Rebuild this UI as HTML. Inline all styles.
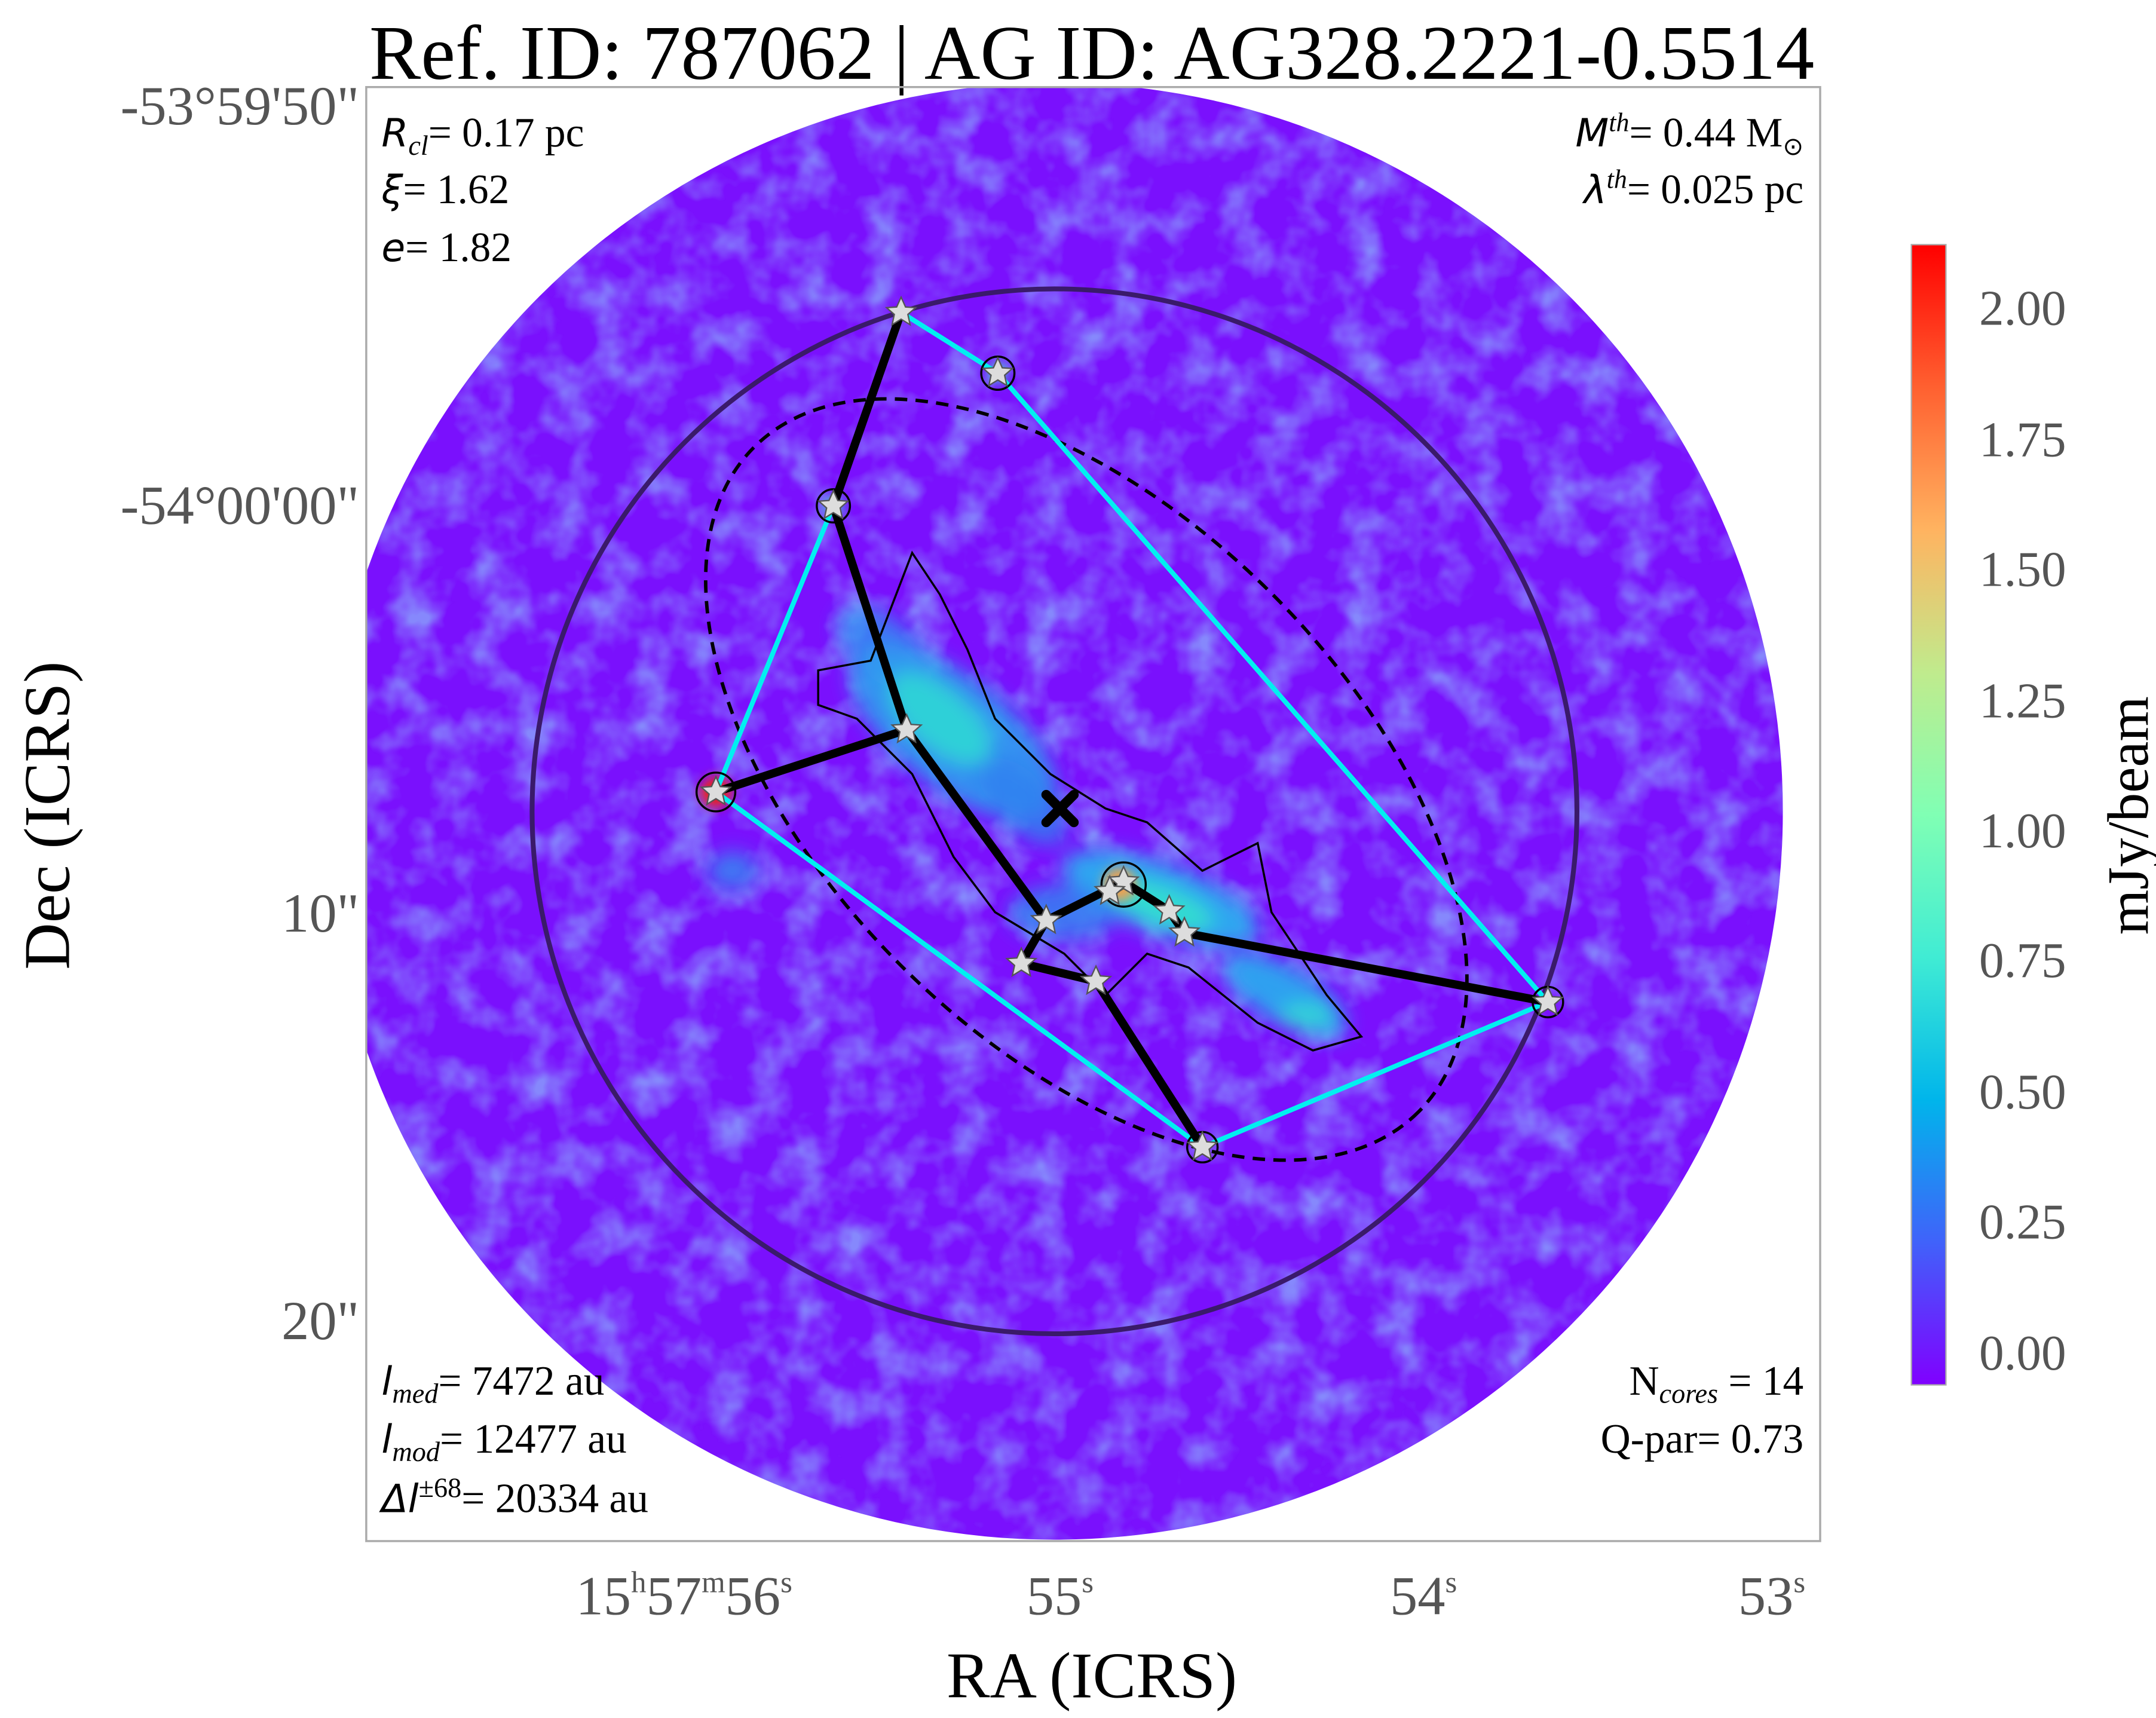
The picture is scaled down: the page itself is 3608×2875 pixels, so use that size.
<!DOCTYPE html>
<html><head><meta charset="utf-8"><style>
html,body{margin:0;padding:0;background:#fff;}
svg{display:block;}
text{font-family:"Liberation Serif",serif;}
</style></head><body>
<svg width="3608" height="2875" viewBox="0 0 1560 1243" preserveAspectRatio="none" xmlns="http://www.w3.org/2000/svg">
<defs>
<clipPath id="ax"><rect x="265" y="63" width="1052" height="1052"/></clipPath>
<clipPath id="disk"><circle cx="763" cy="587" r="527"/></clipPath>
<linearGradient id="cb" x1="0" y1="1" x2="0" y2="0">
<stop offset="0" stop-color="#8000ff"/><stop offset="0.125" stop-color="#4062fa"/>
<stop offset="0.25" stop-color="#00b5eb"/><stop offset="0.375" stop-color="#40ecd4"/>
<stop offset="0.5" stop-color="#80ffb4"/><stop offset="0.625" stop-color="#c0eb8d"/>
<stop offset="0.75" stop-color="#ffb360"/><stop offset="0.875" stop-color="#ff6030"/>
<stop offset="1" stop-color="#ff0000"/></linearGradient>
<filter id="noise" x="0" y="0" width="100%" height="100%">
<feTurbulence type="fractalNoise" baseFrequency="0.035" numOctaves="3" seed="4"/>
<feColorMatrix type="matrix" values="0 0 0 0 0.25  0 0 0 0 0.38  0 0 0 0 0.97  0 0 0 2.2 -0.9"/>
</filter>
<filter id="bl"><feGaussianBlur stdDeviation="7"/></filter>
<filter id="bl2"><feGaussianBlur stdDeviation="4"/></filter>
<g id="st"><polygon points="0,-11 3.2,-3.9 10.5,-3.4 4.9,1.5 6.5,8.9 0,4.9 -6.5,8.9 -4.9,1.5 -10.5,-3.4 -3.2,-3.9" fill="#ddd" stroke="#555" stroke-width="1"/></g>
</defs>
<text x="790" y="57" font-size="56" text-anchor="middle">Ref. ID: 787062 | AG ID: AG328.2221-0.5514</text>
<g clip-path="url(#ax)">
<g clip-path="url(#disk)">
<rect x="230" y="55" width="1070" height="1070" fill="#7a10fd"/>
<rect x="230" y="55" width="1070" height="1070" filter="url(#noise)" opacity="0.8"/>
<g filter="url(#bl)">
<ellipse cx="640" cy="470" rx="40" ry="22" transform="rotate(40 640 470)" fill="#2e8ff2" opacity="0.8"/>
<ellipse cx="690" cy="530" rx="90" ry="40" transform="rotate(38 690 530)" fill="#2f9cf0" opacity="0.9"/>
<ellipse cx="680" cy="520" rx="45" ry="22" transform="rotate(40 680 520)" fill="#2fd0d8"/>
<ellipse cx="740" cy="580" rx="40" ry="20" transform="rotate(45 740 580)" fill="#2f80f0" opacity="0.8"/>
<ellipse cx="840" cy="650" rx="75" ry="25" transform="rotate(20 840 650)" fill="#2fa6f0"/>
<ellipse cx="840" cy="655" rx="40" ry="14" transform="rotate(20 840 655)" fill="#30dcd0"/>
<ellipse cx="930" cy="720" rx="50" ry="20" transform="rotate(30 930 720)" fill="#2fa0f0"/>
<ellipse cx="945" cy="735" rx="20" ry="10" fill="#30d0d8"/>
<ellipse cx="770" cy="660" rx="40" ry="20" fill="#2f88f0" opacity="0.8"/>
<ellipse cx="530" cy="630" rx="18" ry="14" fill="#2f90f0" opacity="0.8"/>
</g>
<g filter="url(#bl2)">
<circle cx="518" cy="573" r="11" fill="#f02010"/>
<circle cx="810" cy="640" r="12" fill="#f0a050"/>
<circle cx="603" cy="366" r="7" fill="#40d0d0"/>
<circle cx="722" cy="270" r="7" fill="#40d0d0"/>
</g>
</g>
</g>
<rect x="265" y="63" width="1052" height="1052" fill="none" stroke="#aaa" stroke-width="1.5"/>
<circle cx="763" cy="587" r="378" fill="none" stroke="#3a1a6a" stroke-width="3.5"/>
<ellipse cx="786" cy="564" rx="340" ry="190" transform="rotate(45 786 564)" fill="none" stroke="#000" stroke-width="2.5" stroke-dasharray="9,6"/>
<polygon points="652,226 722,270 1120,725 870,830 518,573 603,366" fill="none" stroke="#00f0f0" stroke-width="3.5"/>
<g stroke="#000" stroke-width="6" stroke-linecap="round" fill="none">
<polyline points="652,226 603,366 656,528 518,573"/>
<polyline points="656,528 757,666 739,697 793,710 870,830"/>
<polyline points="757,666 813,638 846,659 857,675 1120,725"/>
</g>
<g stroke="#000" stroke-width="1.5" fill="none">
<circle cx="603" cy="366" r="12"/><circle cx="722" cy="270" r="12"/><circle cx="518" cy="573" r="14"/><circle cx="813" cy="640" r="16"/><circle cx="1120" cy="725" r="11"/><circle cx="870" cy="830" r="11"/>
<path d="M592,485 L630,478 L660,400 L680,430 L700,470 L720,520 L760,560 L800,585 L830,595 L870,630 L910,610 L920,660 L960,720 L985,750 L950,760 L910,740 L860,700 L830,690 L800,720 L770,690 L720,660 L690,620 L660,560 L620,520 L592,510 Z"/>
</g>
<g>
<use href="#st" x="652" y="226"/><use href="#st" x="722" y="270"/><use href="#st" x="603" y="366"/>
<use href="#st" x="656" y="528"/><use href="#st" x="518" y="573"/><use href="#st" x="757" y="666"/>
<use href="#st" x="739" y="697"/><use href="#st" x="793" y="710"/><use href="#st" x="813" y="638"/>
<use href="#st" x="846" y="659"/><use href="#st" x="857" y="675"/><use href="#st" x="1120" y="725"/>
<use href="#st" x="870" y="830"/><use href="#st" x="803" y="645"/>
</g>
<g stroke="#000" stroke-width="7" stroke-linecap="round"><line x1="757" y1="575" x2="777" y2="595"/><line x1="777" y1="575" x2="757" y2="595"/></g>
<g font-size="30">
<text x="276" y="106"><tspan font-style="italic" font-family="DejaVu Sans" font-size="28">R</tspan><tspan font-size="20" font-style="italic" dy="6">cl</tspan><tspan dy="-6">= 0.17 pc</tspan></text>
<text x="276" y="147"><tspan font-style="italic" font-family="DejaVu Sans" font-size="28">ξ</tspan>= 1.62</text>
<text x="276" y="189"><tspan font-style="italic" font-family="DejaVu Sans" font-size="28">e</tspan>= 1.82</text>
<text x="1305" y="106" text-anchor="end"><tspan font-style="italic" font-family="DejaVu Sans" font-size="28">M</tspan><tspan font-size="19" font-style="italic" dy="-11">th</tspan><tspan dy="11">= 0.44 M</tspan><tspan font-size="18" dy="6">⊙</tspan></text>
<text x="1305" y="147" text-anchor="end"><tspan font-style="italic" font-family="DejaVu Sans" font-size="28">λ</tspan><tspan font-size="19" font-style="italic" dy="-11">th</tspan><tspan dy="11">= 0.025 pc</tspan></text>
<text x="276" y="1009"><tspan font-style="italic" font-family="DejaVu Sans" font-size="28">l</tspan><tspan font-size="20" font-style="italic" dy="6">med</tspan><tspan dy="-6">= 7472 au</tspan></text>
<text x="276" y="1051"><tspan font-style="italic" font-family="DejaVu Sans" font-size="28">l</tspan><tspan font-size="20" font-style="italic" dy="6">mod</tspan><tspan dy="-6">= 12477 au</tspan></text>
<text x="276" y="1094"><tspan font-style="italic" font-family="DejaVu Sans" font-size="28">Δl</tspan><tspan font-size="20" dy="-11">±68</tspan><tspan dy="11">= 20334 au</tspan></text>
<text x="1305" y="1009" text-anchor="end">N<tspan font-size="20" font-style="italic" dy="6">cores</tspan><tspan dy="-6"> = 14</tspan></text>
<text x="1305" y="1051" text-anchor="end">Q-par= 0.73</text>
</g>
<g font-size="40" fill="#555" text-anchor="end">
<text x="260" y="90">-53°59'50"</text>
<text x="260" y="379">-54°00'00"</text>
<text x="260" y="674">10"</text>
<text x="260" y="969">20"</text>
</g>
<g font-size="40" fill="#555" text-anchor="middle">
<text x="495" y="1168">15<tspan font-size="22" dy="-16">h</tspan><tspan dy="16">57</tspan><tspan font-size="22" dy="-16">m</tspan><tspan dy="16">56</tspan><tspan font-size="22" dy="-16">s</tspan></text>
<text x="767" y="1168">55<tspan font-size="22" dy="-16">s</tspan></text>
<text x="1030" y="1168">54<tspan font-size="22" dy="-16">s</tspan></text>
<text x="1282" y="1168">53<tspan font-size="22" dy="-16">s</tspan></text>
</g>
<text x="790" y="1228" font-size="47" text-anchor="middle">RA (ICRS)</text>
<text transform="translate(50 590) rotate(-90)" font-size="47" text-anchor="middle">Dec (ICRS)</text>
<rect x="1383" y="177" width="25" height="825" fill="url(#cb)" stroke="#aaa" stroke-width="1"/>
<g font-size="36" fill="#555">
<text x="1432" y="235">2.00</text><text x="1432" y="330">1.75</text><text x="1432" y="424">1.50</text>
<text x="1432" y="519">1.25</text><text x="1432" y="613">1.00</text><text x="1432" y="707">0.75</text>
<text x="1432" y="802">0.50</text><text x="1432" y="896">0.25</text><text x="1432" y="991">0.00</text>
</g>
<text transform="translate(1554 590) rotate(-90)" font-size="42" text-anchor="middle">mJy/beam</text>
</svg>
</body></html>
